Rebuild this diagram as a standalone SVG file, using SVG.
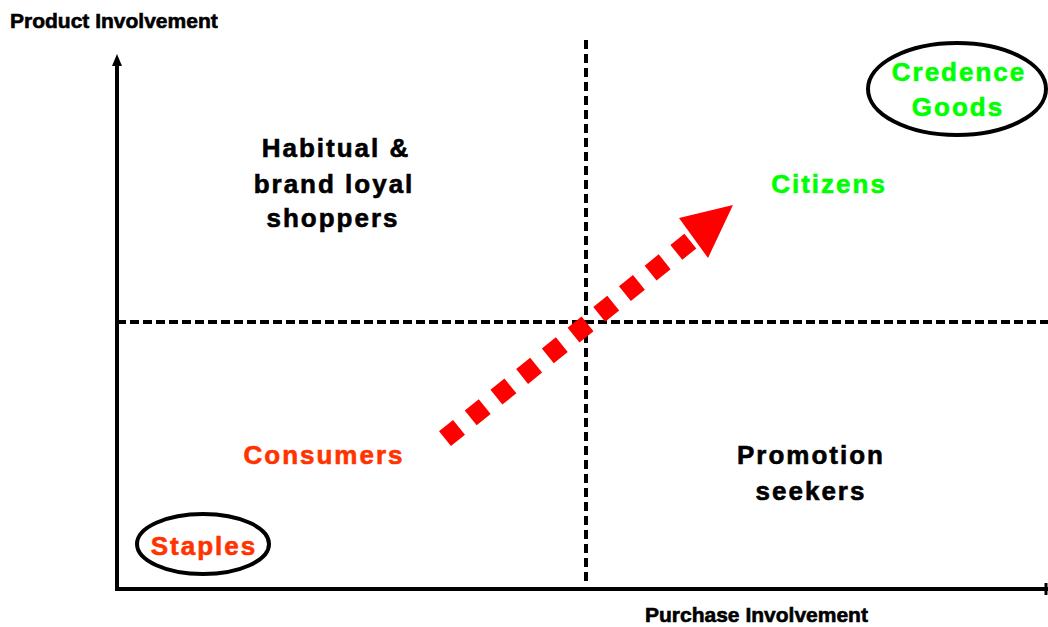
<svg xmlns="http://www.w3.org/2000/svg" width="1048" height="627" viewBox="0 0 1048 627">
<defs>
<style>
.t{font-family:"Liberation Sans",Arial,sans-serif;font-weight:bold;}
.ax{font-size:21px;fill:#000;stroke:#000;stroke-width:0.6;}
.lb{font-size:26px;fill:#000;stroke:#000;stroke-width:0.6;text-anchor:middle;letter-spacing:2px;}
.g{fill:#00ff00;stroke:#00ff00;}
.r{fill:#ff3300;stroke:#ff3300;}
.ell{fill:#fff;stroke:#000;stroke-width:4;}
</style>
</defs>
<rect width="1048" height="627" fill="#fff"/>
<g id="axes">
<line x1="117" y1="62" x2="117" y2="591" stroke="#000" stroke-width="4"/>
<line x1="115" y1="589" x2="1048" y2="589" stroke="#000" stroke-width="4"/>
<polygon points="117,54 112,66 122,66" fill="#000"/>
<line x1="1046" y1="583" x2="1046" y2="595" stroke="#000" stroke-width="3"/>
</g>
<g id="connectors">
<line x1="586" y1="40" x2="586" y2="586" stroke="#000" stroke-width="4" stroke-dasharray="9 5"/>
<line x1="117" y1="322" x2="1048" y2="322" stroke="#000" stroke-width="4" stroke-dasharray="9 4"/>
<line x1="445" y1="438.6" x2="690.4" y2="241" stroke="#ff0000" stroke-width="19" stroke-dasharray="18 15"/>
<polygon points="733,205 679,218 708,258" fill="#ff0000"/>
</g>
<g id="title-y"><text class="t ax" x="10" y="28">Product Involvement</text></g>
<g id="title-x"><text class="t ax" x="645" y="622">Purchase Involvement</text></g>
<g id="habitual">
<text class="t lb" x="336" y="157">Habitual &amp;</text>
<text class="t lb" x="334" y="193">brand loyal</text>
<text class="t lb" x="333" y="227">shoppers</text>
</g>
<g id="citizens"><text class="t lb g" x="829" y="193">Citizens</text></g>
<g id="consumers"><text class="t lb r" x="324" y="464">Consumers</text></g>
<g id="promotion">
<text class="t lb" x="811" y="464">Promotion</text>
<text class="t lb" x="811" y="500">seekers</text>
</g>
<g id="credence">
<ellipse class="ell" cx="957" cy="89" rx="89" ry="46"/>
<text class="t lb g" x="959" y="81">Credence</text>
<text class="t lb g" x="958" y="116">Goods</text>
</g>
<g id="staples">
<ellipse class="ell" cx="203" cy="544" rx="66" ry="30"/>
<text class="t lb r" x="204" y="555">Staples</text>
</g>
</svg>
